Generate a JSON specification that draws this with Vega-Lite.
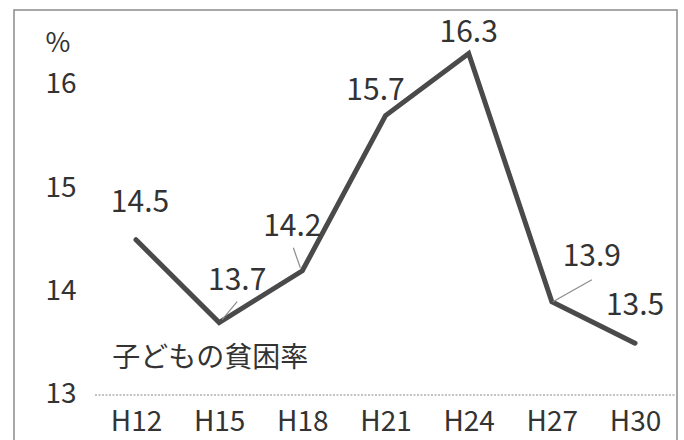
{
  "$schema": "https://vega.github.io/schema/vega-lite/v6.json",
  "width": 663,
  "height": 445,
  "autosize": {"type": "none"},
  "padding": {"left": 14, "top": 10, "right": 7, "bottom": 0},
  "background": "white",
  "config": {
    "view": {"stroke": "#8a8a8a", "strokeWidth": 1.5},
    "font": "Noto Sans CJK JP",
    "text": {"font": "Noto Sans CJK JP"}
  },
  "data": {
    "values": [
      {"year": "H12", "value": 14.5},
      {"year": "H15", "value": 13.7},
      {"year": "H18", "value": 14.2},
      {"year": "H21", "value": 15.7},
      {"year": "H24", "value": 16.3},
      {"year": "H27", "value": 13.9},
      {"year": "H30", "value": 13.5}
    ]
  },
  "encoding": {
    "x": {
      "field": "year",
      "type": "ordinal",
      "sort": null,
      "scale": {"type": "point", "domain": ["H12", "H15", "H18", "H21", "H24", "H27", "H30"], "padding": 0.9856, "align": 0.744},
      "axis": {
        "title": null,
        "orient": "bottom",
        "offset": -60,
        "domain": false,
        "ticks": false,
        "grid": false,
        "labelAngle": 0,
        "labelFontSize": 28,
        "labelColor": "#333333",
        "labelBaseline": "alphabetic",
        "labelPadding": 35
      }
    },
    "y": {
      "field": "value",
      "type": "quantitative",
      "scale": {"domain": [12.42, 16.72], "nice": false, "zero": false},
      "axis": {
        "title": "%",
        "titleAngle": 0,
        "titleAlign": "left",
        "titleBaseline": "middle",
        "titleX": 0,
        "titleY": 33,
        "titleFontSize": 27,
        "titleFontWeight": "normal",
        "titleColor": "#333333",
        "values": [13, 14, 15, 16],
        "offset": -31,
        "domain": false,
        "ticks": false,
        "grid": false,
        "labelAlign": "left",
        "labelBaseline": "middle",
        "labelPadding": 0,
        "labelFontSize": 28,
        "labelColor": "#333333"
      }
    }
  },
  "layer": [
    {
      "transform": [{"filter": "datum.year === 'H12'"}],
      "mark": {"type": "rule", "color": "#888888", "strokeWidth": 1.2, "strokeDash": [2, 1.5], "xOffset": -41, "x2Offset": 41},
      "encoding": {
        "x2": {"datum": "H30"},
        "y": {"datum": 13}
      }
    },
    {
      "mark": {"type": "line", "color": "#4a4a4a", "strokeWidth": 5, "strokeJoin": "miter", "strokeCap": "round"},
      "encoding": {}
    },
    {
      "transform": [{"filter": "datum.year === 'H15'"}],
      "mark": {"type": "rule", "color": "#8c8c8c", "strokeWidth": 1.2, "xOffset": 3, "yOffset": -3, "x2Offset": 18, "y2Offset": -21},
      "encoding": {"x2": {"field": "year"}, "y2": {"field": "value"}}
    },
    {
      "transform": [{"filter": "datum.year === 'H18'"}],
      "mark": {"type": "rule", "color": "#8c8c8c", "strokeWidth": 1.2, "xOffset": -2, "yOffset": -3, "x2Offset": -9, "y2Offset": -23},
      "encoding": {"x2": {"field": "year"}, "y2": {"field": "value"}}
    },
    {
      "transform": [{"filter": "datum.year === 'H27'"}],
      "mark": {"type": "rule", "color": "#8c8c8c", "strokeWidth": 1.2, "xOffset": 1, "yOffset": 0, "x2Offset": 40, "y2Offset": -22},
      "encoding": {"x2": {"field": "year"}, "y2": {"field": "value"}}
    },
    {
      "transform": [{"filter": "datum.year === 'H12'"}],
      "mark": {"type": "text", "dx": 4, "dy": -37, "fontSize": 30, "color": "#333333", "baseline": "middle"},
      "encoding": {"text": {"field": "value", "type": "quantitative", "format": ".1f"}}
    },
    {
      "transform": [{"filter": "datum.year === 'H15'"}],
      "mark": {"type": "text", "dx": 18, "dy": -42, "fontSize": 30, "color": "#333333", "baseline": "middle"},
      "encoding": {"text": {"field": "value", "type": "quantitative", "format": ".1f"}}
    },
    {
      "transform": [{"filter": "datum.year === 'H18'"}],
      "mark": {"type": "text", "dx": -10, "dy": -44, "fontSize": 30, "color": "#333333", "baseline": "middle"},
      "encoding": {"text": {"field": "value", "type": "quantitative", "format": ".1f"}}
    },
    {
      "transform": [{"filter": "datum.year === 'H21'"}],
      "mark": {"type": "text", "dx": -10, "dy": -25, "fontSize": 30, "color": "#333333", "baseline": "middle"},
      "encoding": {"text": {"field": "value", "type": "quantitative", "format": ".1f"}}
    },
    {
      "transform": [{"filter": "datum.year === 'H24'"}],
      "mark": {"type": "text", "dx": 0, "dy": -20, "fontSize": 30, "color": "#333333", "baseline": "middle"},
      "encoding": {"text": {"field": "value", "type": "quantitative", "format": ".1f"}}
    },
    {
      "transform": [{"filter": "datum.year === 'H27'"}],
      "mark": {"type": "text", "dx": 40, "dy": -45, "fontSize": 30, "color": "#333333", "baseline": "middle"},
      "encoding": {"text": {"field": "value", "type": "quantitative", "format": ".1f"}}
    },
    {
      "transform": [{"filter": "datum.year === 'H30'"}],
      "mark": {"type": "text", "dx": 0, "dy": -37, "fontSize": 30, "color": "#333333", "baseline": "middle"},
      "encoding": {"text": {"field": "value", "type": "quantitative", "format": ".1f"}}
    },
    {
      "transform": [{"filter": "datum.year === 'H15'"}],
      "mark": {"type": "text", "text": "子どもの貧困率", "dx": -9, "dy": 36, "fontSize": 28, "color": "#333333", "baseline": "middle"},
      "encoding": {}
    }
  ]
}
